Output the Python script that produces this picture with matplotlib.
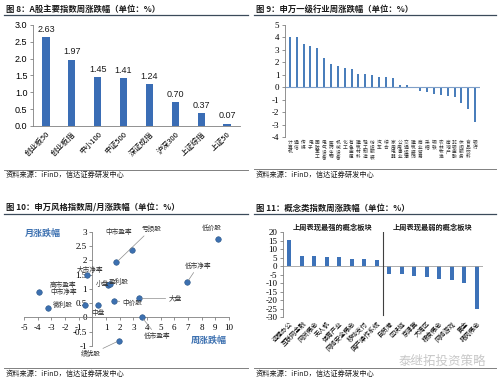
import numpy as np
import matplotlib
matplotlib.use('Agg')
import matplotlib.pyplot as plt
from matplotlib.lines import Line2D

plt.rcParams['font.family'] = ['Noto Sans CJK SC', 'DejaVu Sans']

# 图8 A股主要指数
idx_names = ['创业板50', '创业板指', '中小100', '中证500', '深证成指', '沪深300', '上证综指', '上证50']
idx_chg = [2.63, 1.97, 1.45, 1.41, 1.24, 0.70, 0.37, 0.07]

# 图9 申万一级行业
sw_names = ['计算机', '通信', '传媒', '电子', '国防军工', '电气设备', '医药生物', '机械设备',
            '化工', '有色金属', '建筑材料', '轻工制造', '纺织服装', '汽车', '综合', '家用电器',
            '公用事业', '交通运输', '建筑装饰', '商业贸易', '采掘', '钢铁', '农林牧渔', '房地产',
            '非银金融', '休闲服务', '食品饮料', '银行']
sw_chg = [4.05, 4.05, 3.47, 3.28, 3.15, 2.35, 1.84, 1.70, 1.55, 1.47, 1.09, 1.07, 0.99, 0.85,
          0.80, 0.77, 0.19, 0.19, -0.03, -0.30, -0.35, -0.55, -0.62, -0.70, -0.75, -1.25, -1.75, -2.75]

# 图10 申万风格指数
style_names = ['低价股', '中市盈率', '亏损股', '大市净率', '高市盈率', '中市净率', '小盘', '盈利股',
               '中价股', '中盘', '微利股', '大盘', '低市盈率', '低市净率', '绩优股']
style_week = [9.17, 2.93, 1.76, -0.37, -3.88, -0.55, 1.12, 1.29, 1.61, 0.39, -3.27, 3.41, 3.61, 6.93, 1.98]
style_month = [2.75, 2.36, 1.93, 1.48, 0.88, 0.45, 1.14, 1.16, 0.59, 0.45, 0.33, 0.67, 0.02, 1.23, -0.81]

# 图11 概念类指数
concept_names = ['远程办公', '互联网金融', '网贷概念', '无人机', '体育产业', '网络安全概念', '移动支付',
                 '国产操作系统', '自贸港', '区块链', '京津冀', '大湾区', '粮食概念', '网络游戏', '黄金', '猪肉概念']
concept_chg = [15.4, 6.2, 5.8, 5.4, 5.3, 4.3, 4.1, 3.9, -4.5, -4.5, -6.0, -6.2, -7.4, -8.0, -9.9, -24.9]

SERIF = 'Liberation Serif'
SRC = '资料来源：iFinD，信达证券研发中心'

fig = plt.figure(figsize=(5.0, 3.84), dpi=100)


def frame(x0, x1, ytitle, yline, ysrcline, ysrc, title):
    # title, rule under title, rule above source, source text (pixel coords from top)
    fig.text(x0 / 500 + 0.004, 1 - ytitle / 384, title, fontsize=6, fontweight='bold',
             color='#1a1a1a', va='center', ha='left')
    fig.add_artist(Line2D([x0 / 500, x1 / 500], [1 - yline / 384] * 2, color='#3b4a5a', lw=0.9))
    fig.add_artist(Line2D([x0 / 500, x1 / 500], [1 - ysrcline / 384] * 2, color='#808080', lw=0.7))
    fig.text(x0 / 500 + 0.004, 1 - ysrc / 384, SRC, fontsize=5.2, style='italic',
             color='#1a1a1a', va='center', ha='left')


frame(4, 248, 9, 15, 170, 175, '图 8：A股主要指数周涨跌幅（单位：%）')
frame(254, 496, 9, 15, 169, 175, '图 9：申万一级行业周涨跌幅（单位：%）')
frame(4, 248, 208, 214, 368, 374, '图 10：申万风格指数周/月涨跌幅（单位：%）')
frame(254, 496, 208, 214, 368, 374, '图 11：概念类指数周涨跌幅（单位：%）')

# ---- 图8
ax1 = fig.add_axes([0.066, 0.672, 0.414, 0.263])
x1 = np.arange(len(idx_names))
ax1.bar(x1, idx_chg, width=0.28, color='#3a6db5')
for xi, v in zip(x1, idx_chg):
    ax1.text(xi, v + 0.1, f'{v:.2f}', ha='center', va='bottom', fontsize=6.5,
             family='Liberation Sans', color='#1a1a1a')
ax1.set_xlim(-0.5, len(idx_names) - 0.5)
ax1.set_ylim(0, 3.0)
ax1.set_yticks(np.arange(0, 3.01, 0.5))
ax1.set_yticklabels([f'{v:.1f}' for v in np.arange(0, 3.01, 0.5)], family='Liberation Sans', fontsize=6.5)
ax1.set_xticks(x1)
ax1.set_xticklabels(idx_names, rotation=45, ha='right', rotation_mode='anchor', fontsize=5.5)
ax1.tick_params(axis='x', length=0, pad=3)
ax1.tick_params(axis='y', length=2, width=0.6, pad=2, color='#808080')
for s in ['top', 'right']:
    ax1.spines[s].set_visible(False)
ax1.spines['left'].set_color('#808080')
ax1.spines['bottom'].set_color('#808080')
ax1.spines['left'].set_linewidth(0.6)
ax1.spines['bottom'].set_linewidth(0.6)

# ---- 图9
ax2 = fig.add_axes([0.57, 0.643, 0.39, 0.292])
x2 = np.arange(len(sw_names))
ax2.bar(x2, sw_chg, width=0.3, color='#4a7ebb')
ax2.axhline(0, color='#7f9fc8', lw=0.8)
ax2.set_xlim(-0.7, len(sw_names) - 0.3)
ax2.set_ylim(-4, 5)
ax2.set_yticks(range(-4, 6))
ax2.set_yticklabels([str(v) for v in range(-4, 6)], family=SERIF, fontsize=6.5)
ax2.set_xticks(x2)
ax2.set_xticklabels(['\n'.join(n) for n in sw_names], fontsize=3.4, va='top', linespacing=0.95,
                    color='#333333')
ax2.tick_params(axis='x', length=0, pad=2)
ax2.tick_params(axis='y', length=2, width=0.6, pad=2, color='#808080')
for s in ['top', 'right', 'bottom']:
    ax2.spines[s].set_visible(False)
ax2.spines['left'].set_color('#808080')
ax2.spines['left'].set_linewidth(0.6)

# ---- 图10
ax3 = fig.add_axes([0.048, 0.099, 0.41, 0.297])
ax3.scatter(style_week, style_month, s=16, color='#3c70b0', edgecolor='#2a5587', lw=0.4, zorder=3)
ax3.set_xlim(-5, 10)
ax3.set_ylim(-1, 3)
ax3.spines['left'].set_position('zero')
ax3.spines['bottom'].set_position('zero')
for s in ['top', 'right']:
    ax3.spines[s].set_visible(False)
for s in ['left', 'bottom']:
    ax3.spines[s].set_color('#808080')
    ax3.spines[s].set_linewidth(0.6)
xt = [v for v in range(-5, 11) if v != 0]
ax3.set_xticks(xt)
ax3.set_xticklabels([str(v) for v in xt], family=SERIF, fontsize=6.5)
yt = [-1, -0.5, 0, 0.5, 1, 1.5, 2, 2.5, 3]
ax3.set_yticks(yt)
ax3.set_yticklabels([f'{v:g}' for v in yt], family=SERIF, fontsize=6.5)
ax3.tick_params(length=2, width=0.6, pad=2, color='#808080')
ax3.tick_params(axis='x', pad=3)

# label offsets in points: (dx, dy, draw leader line)
label_pos = {
    '低价股': (-4, 8, False), '中市盈率': (-10, 13, False), '亏损股': (25, 24, True),
    '大市净率': (2, 4, False), '高市盈率': (17, 5, False), '中市净率': (-15, 9, False),
    '小盘': (-4, 1, False), '盈利股': (6, 2, False), '中价股': (13, -2, True),
    '中盘': (0, -6, False), '微利股': (11, 2, False), '大盘': (26, 0, True),
    '低市盈率': (11, -14, True), '低市净率': (8, 12, True), '绩优股': (-21, -10, True),
}
for n, wx, my in zip(style_names, style_week, style_month):
    dx, dy, line = label_pos[n]
    ax3.annotate(n, (wx, my), xytext=(dx, dy), textcoords='offset points',
                 ha='center', va='center', fontsize=4.8, color='#333333',
                 arrowprops=dict(arrowstyle='-', color='#8c8c8c', lw=0.5, shrinkA=0, shrinkB=2) if line else None)
ax3.text(0.09, 0.99, '月涨跌幅', transform=ax3.transAxes, fontsize=6.5, color='#3c70b0',
         fontweight='bold', ha='center', va='center')
ax3.text(0.9, 0.05, '周涨跌幅', transform=ax3.transAxes, fontsize=6.5, color='#3c70b0',
         fontweight='bold', ha='center', va='center')

# ---- 图11
ax4 = fig.add_axes([0.566, 0.174, 0.40, 0.221])
x4 = np.arange(len(concept_names))
ax4.bar(x4, concept_chg, width=0.32, color='#3d72b8')
ax4.axhline(0, color='#a0a0a0', lw=0.6)
ax4.axvline(7.5, ymin=0.03, ymax=1.0, color='#404040', lw=0.8)
ax4.set_xlim(-0.5, len(concept_names) - 0.5)
ax4.set_ylim(-30, 20)
ax4.set_yticks(range(-30, 21, 5))
ax4.set_yticklabels([str(v) for v in range(-30, 21, 5)], family=SERIF, fontsize=6.5)
ax4.set_xticks(x4)
ax4.set_xticklabels(concept_names, rotation=45, ha='right', rotation_mode='anchor', fontsize=4.6)
ax4.tick_params(axis='x', length=0, pad=2)
ax4.tick_params(axis='y', length=2, width=0.6, pad=2, color='#808080')
for s in ['top', 'right', 'bottom']:
    ax4.spines[s].set_visible(False)
ax4.spines['left'].set_color('#808080')
ax4.spines['left'].set_linewidth(0.6)
ax4.text(3.5, 1.06, '上周表现最强的概念板块', transform=ax4.get_xaxis_transform(),
         fontsize=5.2, fontweight='bold', ha='center', va='center', color='#1a1a1a')
ax4.text(11.5, 1.06, '上周表现最弱的概念板块', transform=ax4.get_xaxis_transform(),
         fontsize=5.2, fontweight='bold', ha='center', va='center', color='#1a1a1a')

fig.text(0.884, 0.058, '泰继拓投资策略', fontsize=9, color='#c8c8c8', ha='center', va='center')

fig.savefig('out.png', dpi=100)
